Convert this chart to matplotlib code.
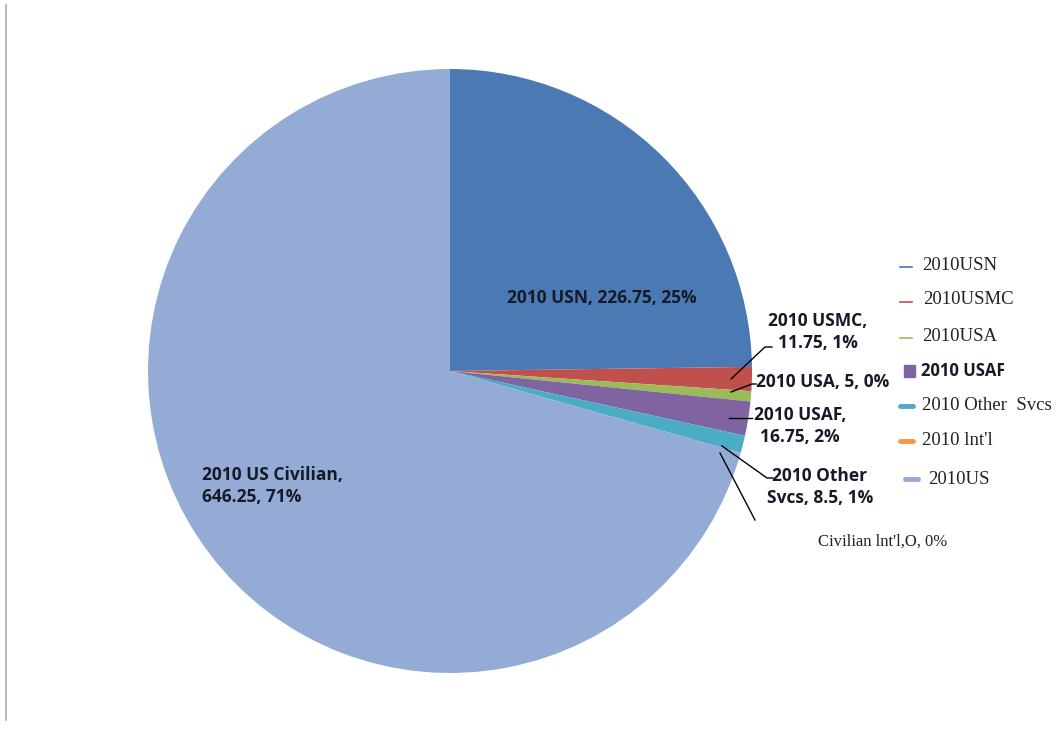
import matplotlib.pyplot as plt
from matplotlib.lines import Line2D
from matplotlib.patches import Rectangle
from matplotlib.transforms import Bbox

# data (thousands)
names = ['2010 USN', '2010 USMC', '2010 USA', '2010 USAF', '2010 Other Svcs',
         "2010 Int'l", '2010 US Civilian']
values = [226.75, 11.75, 5, 16.75, 8.5, 0.0, 646.25]
colors = ['#4a79b3', '#c0504d', '#9bbb59', '#8064a2', '#4bacc6', '#f79646', '#93abd5']

pie_labels = ['2010 USN, 226.75, 25%', '2010 USMC,\n11.75, 1%', '2010 USA, 5, 0%',
              '2010 USAF,\n16.75, 2%', '2010 Other\nSvcs, 8.5, 1%',
              "Civilian lnt'l,O, 0%", '2010 US Civilian,\n646.25, 71%']
legend_labels = ['2010USN', '2010USMC', '2010USA', '2010 USAF', '2010 Other  Svcs',
                 "2010 lnt'l", '2010US']

W, H = 1058, 732
fig = plt.figure(figsize=(W / 100, H / 100), dpi=100)

# pie centre (450, 371) px, radius 302 px
cx, cy, r = 450, 371, 302
ax = fig.add_axes([(cx - r) / W, (H - cy - r) / H, 2 * r / W, 2 * r / H])
ax.pie(values, colors=colors, startangle=90, counterclock=False, radius=1,
       wedgeprops=dict(linewidth=0))
ax.set_xlim(-1, 1)
ax.set_ylim(-1, 1)
ax.set_aspect('equal')
ax.axis('off')


def px(x, y):
    return ((x - cx) / r, (cy - y) / r)


bold = dict(family='Open Sans', fontweight='bold', fontsize=12.5, color='#161a28')

ax.text(*px(602, 298), pie_labels[0], ha='center', va='center', **bold)
ax.text(*px(202, 486), pie_labels[6], ha='left', va='center', linespacing=1.3, **bold)
ax.text(*px(818, 332), pie_labels[1], ha='center', va='center', linespacing=1.3,
        clip_on=False, **bold)
ax.text(*px(823, 382), pie_labels[2], ha='center', va='center', clip_on=False, **bold)
ax.text(*px(800, 426), pie_labels[3], ha='center', va='center', linespacing=1.3,
        clip_on=False, **bold)
ax.text(*px(820, 487), pie_labels[4], ha='center', va='center', linespacing=1.3,
        clip_on=False, **bold)
ax.text(*px(883, 542), pie_labels[5], ha='center', va='center', clip_on=False,
        family='Liberation Serif', fontsize=12, color='#222222')

# leader lines
leaders = [
    [(731, 379), (765, 347), (772, 347)],
    [(731, 392), (752, 384), (756, 384)],
    [(729, 418), (752, 418)],
    [(722, 446), (767, 478), (773, 478)],
    [(720, 453), (755, 520)],
]
for pts in leaders:
    xs, ys = zip(*[px(x, y) for x, y in pts])
    ax.plot(xs, ys, color='black', lw=1, clip_on=False)

# legend drawn by hand to mimic the scanned look
leg_y = [265, 300, 336, 371, 406, 441, 479]
text_x = [922, 923, 922, 921, 922, 922, 928]
for i, (lab, y) in enumerate(zip(legend_labels, leg_y)):
    fy = 1 - y / H
    if i < 3:
        fig.add_artist(Line2D([900 / W, 912 / W], [1 - (y + 2) / H] * 2,
                              color=colors[i], lw=1.2))
    elif i == 3:
        fig.add_artist(Rectangle((904 / W, 1 - (y + 6) / H), 11 / W, 12 / H,
                                 color=colors[i], transform=fig.transFigure))
    else:
        x0 = 900 if i < 6 else 905
        fig.add_artist(Line2D([x0 / W, (x0 + 13) / W], [fy] * 2,
                              color=colors[i], lw=3.5, solid_capstyle='round'))
    if i == 3:
        t = fig.text(text_x[i] / W, fy, lab, ha='left', va='center',
                     family='Open Sans', fontweight='bold', fontsize=12, color='#161a28')
        t.set_clip_box(Bbox.from_extents(0, 0, 1004, H))
        t.set_clip_on(True)
    else:
        fig.text(text_x[i] / W, fy, lab, ha='left', va='center',
                 family='Liberation Serif', fontsize=13.5, color='#222222')

# thin frame line on the left edge
fig.add_artist(Line2D([6 / W, 6 / W], [1 - 5 / H, 1 - 720 / H], color='#aaaaaa', lw=1.2))

fig.savefig('out.png', dpi=100)
